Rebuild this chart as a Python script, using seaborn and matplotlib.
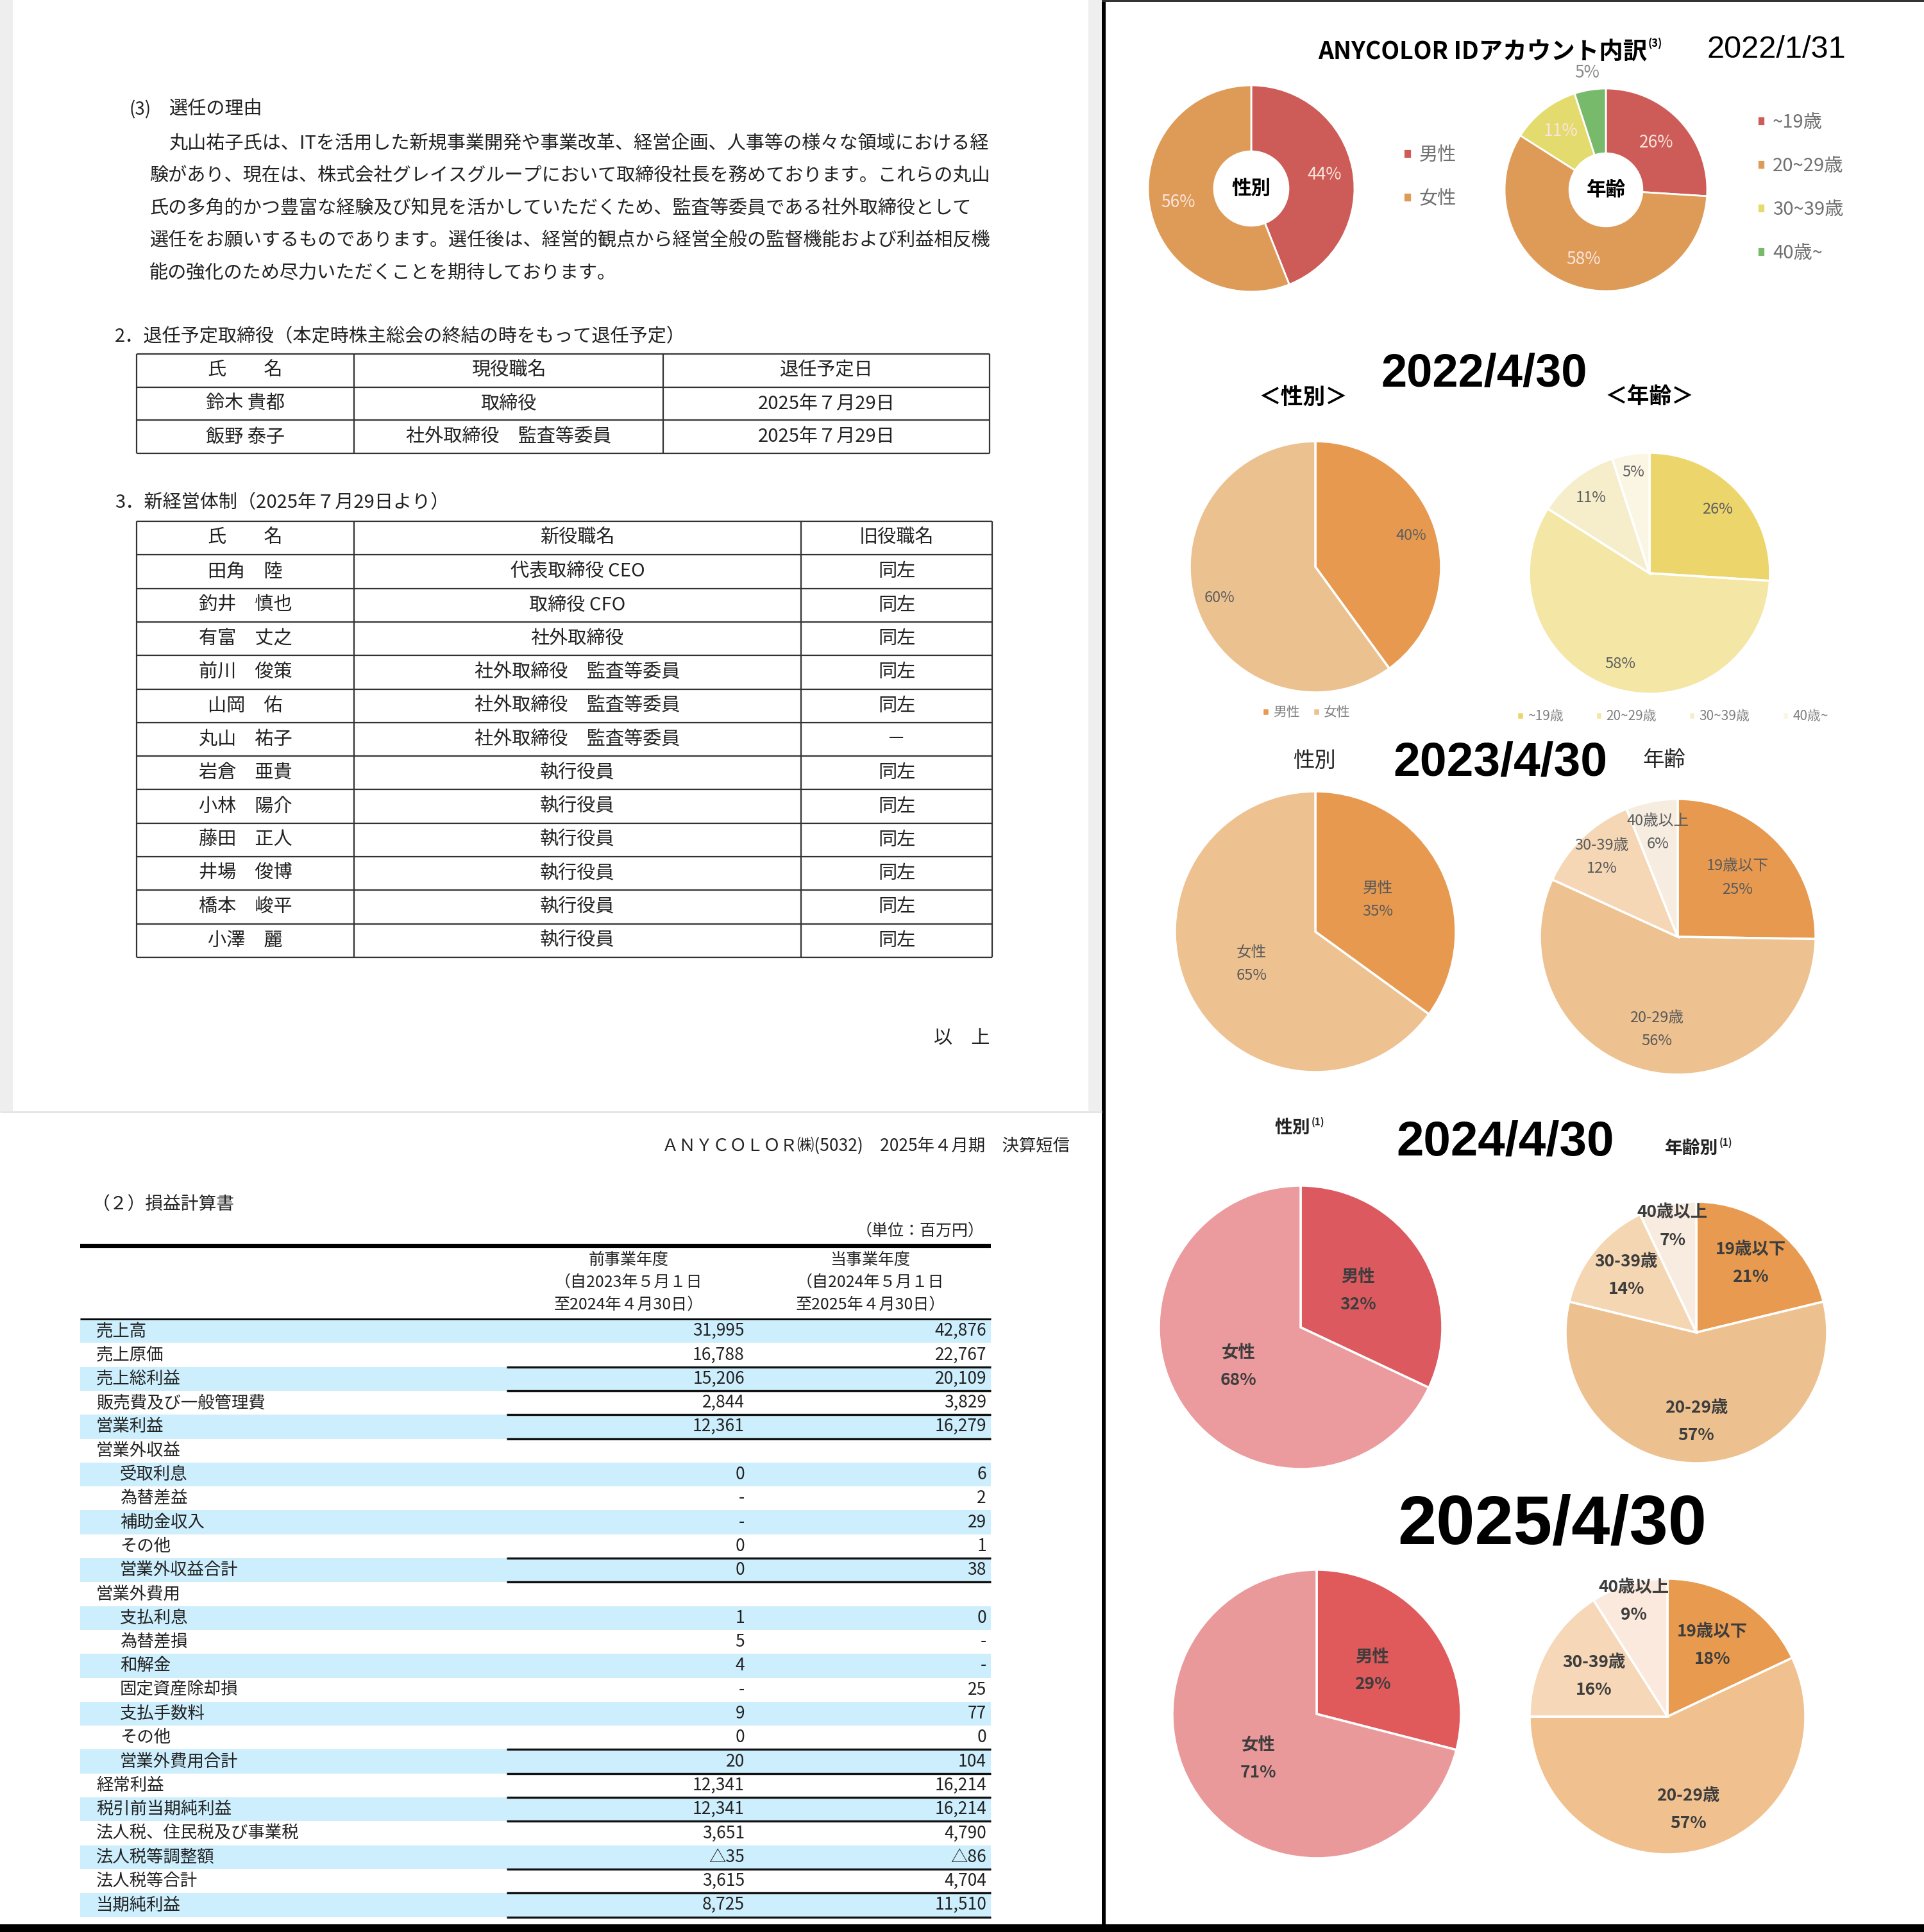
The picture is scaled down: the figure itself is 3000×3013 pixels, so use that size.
#! /usr/bin/env python

import numpy as np
import pandas as pd
import matplotlib
matplotlib.use("Agg")
import matplotlib.pyplot as plt
import seaborn as sns

W, H = 3000, 3013

# ---------------- data ----------------
reason_head = "選任の理由"
reason_lines = [
    "丸山祐子氏は、ITを活用した新規事業開発や事業改革、経営企画、人事等の様々な領域における経",
    "験があり、現在は、株式会社グレイスグループにおいて取締役社長を務めております。これらの丸山",
    "氏の多角的かつ豊富な経験及び知見を活かしていただくため、監査等委員である社外取締役として",
    "選任をお願いするものであります。選任後は、経営的観点から経営全般の監督機能および利益相反機",
    "能の強化のため尽力いただくことを期待しております。",
]

retire_title = "2．退任予定取締役（本定時株主総会の終結の時をもって退任予定）"
retire_header = ["氏　　名", "現役職名", "退任予定日"]
retire_names = ["鈴木 貴都", "飯野 泰子"]
retire_roles = ["取締役", "社外取締役　監査等委員"]
retire_dates = ["2025年７月29日", "2025年７月29日"]

board_title = "3．新経営体制（2025年７月29日より）"
board_header = ["氏　　名", "新役職名", "旧役職名"]
board_names = ["田角　陸", "釣井　慎也", "有富　丈之", "前川　俊策", "山岡　佑", "丸山　祐子",
               "岩倉　亜貴", "小林　陽介", "藤田　正人", "井場　俊博", "橋本　峻平", "小澤　麗"]
board_new = ["代表取締役 CEO", "取締役 CFO", "社外取締役", "社外取締役　監査等委員",
             "社外取締役　監査等委員", "社外取締役　監査等委員", "執行役員", "執行役員",
             "執行役員", "執行役員", "執行役員", "執行役員"]
board_old = ["同左", "同左", "同左", "同左", "同左", "－", "同左", "同左", "同左", "同左", "同左", "同左"]

pl_items = ["売上高", "売上原価", "売上総利益", "販売費及び一般管理費", "営業利益",
            "営業外収益", "受取利息", "為替差益", "補助金収入", "その他", "営業外収益合計",
            "営業外費用", "支払利息", "為替差損", "和解金", "固定資産除却損", "支払手数料",
            "その他", "営業外費用合計", "経常利益", "税引前当期純利益",
            "法人税、住民税及び事業税", "法人税等調整額", "法人税等合計", "当期純利益"]
pl_level = [0, 0, 0, 0, 0, 0, 1, 1, 1, 1, 1, 0, 1, 1, 1, 1, 1, 1, 1, 0, 0, 0, 0, 0, 0]
pl_prev = ["31,995", "16,788", "15,206", "2,844", "12,361", "", "0", "-", "-", "0", "0", "",
           "1", "5", "4", "-", "9", "0", "20", "12,341", "12,341", "3,651", "△35", "3,615", "8,725"]
pl_curr = ["42,876", "22,767", "20,109", "3,829", "16,279", "", "6", "2", "29", "1", "38", "",
           "0", "-", "-", "25", "77", "0", "104", "16,214", "16,214", "4,790", "△86", "4,704", "11,510"]
pl_head_prev = "前事業年度\n（自2023年５月１日\n至2024年４月30日）"
pl_head_curr = "当事業年度\n（自2024年５月１日\n至2025年４月30日）"

gender_labels = ["男性", "女性"]
age_labels_old = ["~19歳", "20~29歳", "30~39歳", "40歳~"]
age_labels_new = ["19歳以下", "20-29歳", "30-39歳", "40歳以上"]

gender_2022_01 = [44, 56]
age_2022_01 = [26, 58, 11, 5]
gender_2022_04 = [40, 60]
age_2022_04 = [26, 58, 11, 5]
gender_2023 = [35, 65]
age_2023 = [25, 56, 12, 6]
gender_2024 = [32, 68]
age_2024 = [21, 57, 14, 7]
gender_2025 = [29, 71]
age_2025 = [18, 57, 16, 9]

# ---------------- style ----------------
sns.set_theme(style="white")
plt.rcParams['font.family'] = ['Noto Sans CJK JP', 'DejaVu Sans']
LATIN = ['Liberation Sans', 'Noto Sans CJK JP', 'DejaVu Sans']
TXT = '#222222'
BLUE = '#cdeefc'

fig = plt.figure(figsize=(W / 100, H / 100), dpi=100, facecolor='white')
bg = fig.add_axes([0, 0, 1, 1])
bg.set_xlim(0, W)
bg.set_ylim(H, 0)
bg.axis('off')


def put(x, y, s, size, ha='left', va='center', **kw):
    kw.setdefault('color', TXT)
    bg.text(x, y, s, fontsize=size, ha=ha, va=va, **kw)


def grid_table(x_edges, y_top, row_h, rows, size):
    n = len(rows)
    y_edges = y_top + row_h * np.arange(n + 1)
    bg.hlines(y_edges, x_edges[0], x_edges[-1], color='#333333', lw=1.6)
    bg.vlines(x_edges, y_edges[0], y_edges[-1], color='#333333', lw=1.6)
    xc = (np.array(x_edges[:-1]) + np.array(x_edges[1:])) / 2
    for i, row in enumerate(rows):
        for x, s in zip(xc, row):
            put(x, y_edges[i] + row_h / 2, s, size, ha='center')


# ---------------- page frames ----------------
bg.axvspan(0, 20, ymin=1 - 1733 / H, ymax=1, color='#eeeeee', lw=0)
bg.axvspan(1697, 1718, ymin=1 - 1733 / H, ymax=1, color='#efefef', lw=0)
bg.hlines(1734, 0, 1718, color='#e4e4e4', lw=2)
bg.axvspan(1718, 1724, color='black', lw=0)
bg.axhspan(0, 3, xmin=1718 / W, xmax=1, color='#333333', lw=0)
bg.axhspan(3001, H, color='black', lw=0)

# ---------------- top-left document ----------------
put(202, 171, "(3)", 20)
put(263, 171, reason_head, 21)
for i, line in enumerate(reason_lines):
    put(263 if i == 0 else 233, 224 + i * 50.5, line, 21)

put(179, 525, retire_title, 21)
grid_table([213, 552, 1034, 1543], 552, 51.7,
           [retire_header] + [list(r) for r in zip(retire_names, retire_roles, retire_dates)], 21)

put(179, 784, board_title, 21)
grid_table([213, 552, 1249, 1547], 813, 52.3,
           [board_header] + [list(r) for r in zip(board_names, board_new, board_old)], 21)

put(1543, 1620, "以　上", 21, ha='right')

# ---------------- bottom-left income statement ----------------
put(1668, 1787, "ＡＮＹＣＯＬＯＲ㈱(5032)　2025年４月期　決算短信", 19, ha='right')
put(144, 1878, "（２）損益計算書", 20)
put(1535, 1920, "（単位：百万円）", 18, ha='right')
bg.hlines(1943, 125, 1545, color='black', lw=4.5)
put(980, 2000, pl_head_prev, 18, ha='center', linespacing=1.45)
put(1357, 2000, pl_head_curr, 18, ha='center', linespacing=1.45)
bg.hlines(2057, 125, 1545, color='black', lw=2)

pl = pd.DataFrame({'item': pl_items, 'level': pl_level, 'prev': pl_prev, 'curr': pl_curr})
row_h = 37.3
top = 2057
for i, r in pl.iterrows():
    y0 = top + i * row_h
    if i % 2 == 0:
        bg.axhspan(y0, y0 + row_h, xmin=125 / W, xmax=1545 / W, color=BLUE, lw=0)
    yc = y0 + row_h / 2
    put(150 if r['level'] == 0 else 187, yc, r['item'], 19)
    put(1161, yc, r['prev'], 19, ha='right')
    put(1538, yc, r['curr'], 19, ha='right')
for k in [2, 3, 4, 5, 10, 11, 18, 19, 20, 21, 23, 24, 25]:
    bg.hlines(top + k * row_h, 790, 1545, color='#111111', lw=2.4, zorder=3)


# ---------------- right: pies ----------------
def pie_axes(cx, cy, r):
    ax = fig.add_axes([(cx - r) / W, 1 - (cy + r) / H, 2 * r / W, 2 * r / H])
    return ax


def draw_pie(cx, cy, r, values, colors, labels, dists, size, tcolor,
             weight='normal', width=None, lw=2.5):
    ax = pie_axes(cx, cy, r)
    wp = dict(edgecolor='white', linewidth=lw)
    if width is not None:
        wp['width'] = width
    wedges, _ = ax.pie(values, colors=colors, startangle=90, counterclock=False,
                       radius=1, wedgeprops=wp)
    if isinstance(tcolor, str):
        tcolor = [tcolor] * len(values)
    for w, lab, d, c in zip(wedges, labels, dists, tcolor):
        ang = np.deg2rad((w.theta1 + w.theta2) / 2)
        ax.text(d * np.cos(ang), d * np.sin(ang), lab, ha='center', va='center',
                fontsize=size, color=c, fontweight=weight, linespacing=1.75)
    ax.set_xlim(-1, 1)
    ax.set_ylim(-1, 1)
    ax.axis('off')
    return ax, wedges


def pct(v):
    return [f"{x}%" for x in v]


def both(names, v):
    return [f"{n}\n{x}%" for n, x in zip(names, v)]


# 2022/1/31
put(2568, 81, "ANYCOLOR IDアカウント内訳", 27, ha='right', fontweight='bold', color='black')
put(2570, 68, "(3)", 12, fontweight='bold', color='black')
put(2770, 77, "2022/1/31", 35, ha='center', family=LATIN, color='black')
c_red, c_org, c_yel, c_grn = '#cd5c58', '#de9b58', '#e4db6e', '#78ba6c'
ax, wd = draw_pie(1951, 294, 161, gender_2022_01, [c_red, c_org], pct(gender_2022_01),
                  [0.72, 0.72], 19, '#fbe4dc', width=0.64, lw=2)
ax.text(0, 0, "性別", ha='center', va='center', fontsize=22, fontweight='bold', color='black')
fig.legend(wd, gender_labels, loc='center left', bbox_to_anchor=(2188 / W, 1 - 276 / H),
           frameon=False, fontsize=21, labelcolor='#707070', handlelength=0.45,
           handleheight=0.45, handletextpad=0.4, labelspacing=1.3, borderpad=0, borderaxespad=0)
ax, wd = draw_pie(2504, 296, 158, age_2022_01, [c_red, c_org, c_yel, c_grn], pct(age_2022_01),
                  [0.68, 0.72, 0.73, 1.17], 19, ['#fbe4dc'] * 3 + ['#8a8a8a'], width=0.64, lw=2)
ax.text(0, 0, "年齢", ha='center', va='center', fontsize=22, fontweight='bold', color='black')
fig.legend(wd, age_labels_old, loc='center left', bbox_to_anchor=(2740 / W, 1 - 293 / H),
           frameon=False, fontsize=21, labelcolor='#707070', handlelength=0.42,
           handleheight=0.42, handletextpad=0.4, labelspacing=1.3, borderpad=0, borderaxespad=0)

# 2022/4/30
put(2314, 584, "2022/4/30", 52, ha='center', family=LATIN, fontweight='bold', color='black')
put(2032, 619, "＜性別＞", 25, ha='center', fontweight='bold', color='black')
put(2572, 619, "＜年齢＞", 25, ha='center', fontweight='bold', color='black')
ax, wd = draw_pie(2051, 884, 196, gender_2022_04, ['#e6994f', '#ecc190'], pct(gender_2022_04),
                  [0.8, 0.8], 17, '#5f5f5f')
fig.legend(wd, gender_labels, loc='center', bbox_to_anchor=(2037 / W, 1 - 1111 / H), ncol=2,
           frameon=False, fontsize=15, labelcolor='#808080', handlelength=0.5,
           handleheight=0.5, handletextpad=0.3, columnspacing=1.0, borderpad=0, borderaxespad=0)
ax, wd = draw_pie(2572, 894, 188, age_2022_04, ['#ecd66c', '#f4e6a4', '#f6eecb', '#fbf5e3'],
                  pct(age_2022_04), [0.77, 0.79, 0.79, 0.85], 17, '#5f5f5f')
fig.legend(wd, age_labels_old, loc='center', bbox_to_anchor=(2608 / W, 1 - 1117 / H), ncol=4,
           frameon=False, fontsize=15, labelcolor='#808080', handlelength=0.5,
           handleheight=0.5, handletextpad=0.3, columnspacing=2.4, borderpad=0, borderaxespad=0)

# 2023/4/30
put(2339, 1190, "2023/4/30", 54, ha='center', family=LATIN, fontweight='bold', color='black')
put(2049, 1186, "性別", 24, ha='center', color='#222222')
put(2595, 1186, "年齢", 24, ha='center', color='#222222')
draw_pie(2051, 1453, 219, gender_2023, ['#e6994f', '#eec290'], both(gender_labels, gender_2023),
         [0.5, 0.51], 17, '#5a5a5a')
draw_pie(2616, 1461, 215, age_2023, ['#e6994f', '#edc190', '#f5d7b5', '#f7ece0'],
         both(age_labels_new, age_2023), [0.61, 0.69, 0.8, 0.77], 17, '#5a5a5a')

# 2024/4/30
put(2347, 1782, "2024/4/30", 55, ha='center', family=LATIN, fontweight='bold', color='black')
put(2043, 1759, "性別", 20, ha='right', fontweight='bold', color='#222222')
put(2045, 1750, "(1)", 11, fontweight='bold', color='#222222')
put(2679, 1791, "年齢別", 20, ha='right', fontweight='bold', color='#222222')
put(2681, 1782, "(1)", 11, fontweight='bold', color='#222222')
draw_pie(2028, 2070, 221, gender_2024, ['#dc5a5f', '#eb9a9d'], both(gender_labels, gender_2024),
         [0.48, 0.52], 19, '#3d3d3d', weight='bold')
draw_pie(2645, 2078, 204, age_2024, ['#e89b50', '#edc18f', '#f5d6b3', '#f8ece1'],
         both(age_labels_new, age_2024), [0.67, 0.68, 0.69, 0.83], 19, '#3d3d3d', weight='bold')

# 2025/4/30
put(2420, 2380, "2025/4/30", 78, ha='center', family=LATIN, fontweight='bold', color='black')
draw_pie(2053, 2673, 225, gender_2025, ['#e05a5c', '#ea999b'], both(gender_labels, gender_2025),
         [0.49, 0.51], 19, '#3d3d3d', weight='bold')
draw_pie(2600, 2677, 215, age_2025, ['#e89a4f', '#f0c18f', '#f6d7b7', '#fbe9dd'],
         both(age_labels_new, age_2025), [0.61, 0.69, 0.61, 0.87], 19, '#3d3d3d', weight='bold')

fig.savefig("out.png", dpi=100, facecolor='white')
plt.close(fig)
